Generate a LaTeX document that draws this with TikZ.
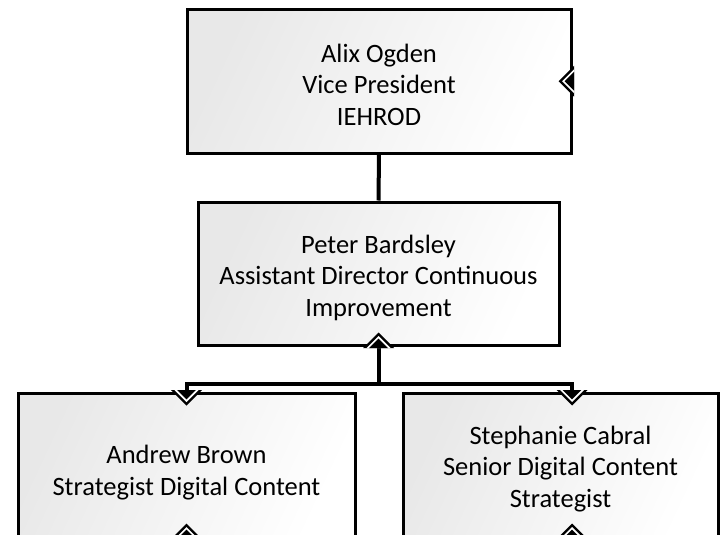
\documentclass[tikz,border=0pt]{standalone}
\usepackage{fontspec}
\setmainfont{Carlito}
\usetikzlibrary{calc}

\tikzset{
  orgbox/.style={draw=black, line width=3pt, rectangle,
    left color=black!9, right color=white, shading angle=65, inner sep=0pt},
  boxtext/.style={align=center, inner sep=0pt,
    font=\fontsize{26.5}{31.5}\selectfont},
  link/.style={draw=black, line width=4pt},
  % Visio-style connector end: black chevron, white band, black core
  vmark/.pic={
    \fill[black] (-15.5,1.5) -- (0,-14) -- (15.5,1.5) -- cycle;
    \fill[white] (-12,1.5) -- (0,-10.5) -- (12,1.5) -- cycle;
    \fill[black] (-9.3,1.5) -- (0,-7.8) -- (9.3,1.5) -- cycle;
  }
}

\begin{document}
\begin{tikzpicture}[x=1pt, y=-1pt]
  \clip (0,0) rectangle (721,535);
  \fill[white] (0,0) rectangle (721,535);

  % boxes
  \node[orgbox, minimum width=384pt, minimum height=143.5pt] (vp) at (379,81.25) {};
  \node[orgbox, minimum width=361pt, minimum height=143pt] (ad) at (378.5,273.5) {};
  \node[orgbox, minimum width=337pt, minimum height=143pt] (ab) at (186.5,464.5) {};
  \node[orgbox, minimum width=315pt, minimum height=143pt] (sc) at (560.5,464.5) {};

  % box texts
  \node[boxtext] (vptext) at ($(vp.center)+(0,3.5)$)
    {Alix Ogden\\Vice President\\IEHROD};
  \node[boxtext] (adtext) at ($(ad.center)+(0,4)$)
    {Peter Bardsley\\Assistant Director Continuous\\Improvement};
  \node[boxtext] (abtext) at ($(ab.center)+(0,8)$)
    {Andrew Brown\\Strategist Digital Content};
  \node[boxtext] (sctext) at ($(sc.center)+(0,4.5)$)
    {Stephanie Cabral\\Senior Digital Content\\Strategist};

  % connector points
  \coordinate (bar) at ($(ad.south)+(0,37)$);
  \coordinate (abin) at (ab.north);
  \coordinate (scin) at ($(sc.north)+(11.5,0)$);
  \coordinate (about) at (ab.south);
  \coordinate (scout) at ($(sc.south)+(11.5,0)$);

  % connectors
  \draw[link] (vp.south) -- (ad.north);
  \draw[link] (ad.south) -- (bar);
  \draw[link] (abin) -- (abin |- bar) -- (scin |- bar) -- (scin);

  % connector ends
  \pic at (ad.south) {vmark};
  \pic[rotate=180] at (abin) {vmark};
  \pic[rotate=180] at (scin) {vmark};
  \pic at (about) {vmark};
  \pic at (scout) {vmark};
  \pic[rotate=90] at (vp.east) {vmark};
\end{tikzpicture}
\end{document}
